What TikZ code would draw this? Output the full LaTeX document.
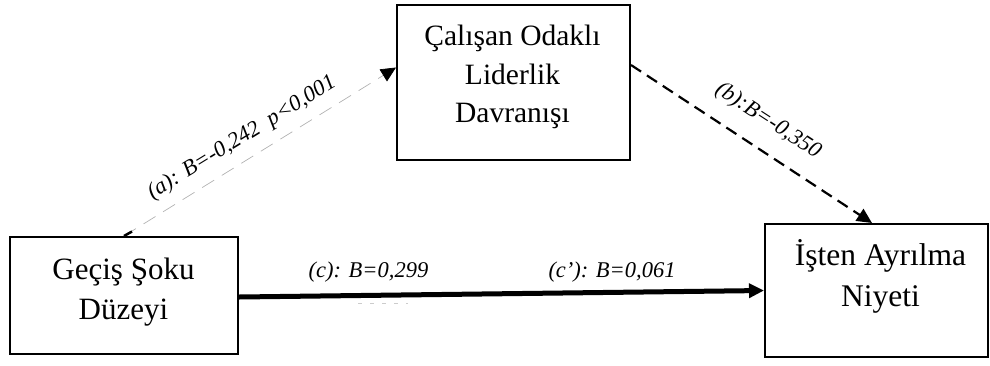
\documentclass[tikz,border=0pt]{standalone}
\usepackage{fontspec}
\setmainfont{Liberation Serif}
\usetikzlibrary{arrows.meta}
\begin{document}
\begin{tikzpicture}[x=1pt,y=-1pt,
  box/.style={draw,line width=2pt,minimum width=#1,inner sep=0pt},
  boxtext/.style={font=\fontsize{#1}{#1}\selectfont,anchor=base,inner sep=0pt},
  lab/.style={font=\fontsize{22.5}{26}\selectfont\itshape,inner sep=0pt},
  tip/.style={-{Triangle[length=15pt,width=14pt]}}
]
\useasboundingbox (0,0) rectangle (990,365);
% boxes
\node[box=228pt,minimum height=117pt] (gs) at (124,295.5) {};
\node[box=233pt,minimum height=155pt] (co) at (513.5,82.5) {};
\node[box=223pt,minimum height=133pt] (ni) at (876.5,290.5) {};
% texts
\node[boxtext=31] (gst1) at (123.5,279) {Geçiş Şoku};
\node[boxtext=31] (gst2) at (123.5,319) {Düzeyi};
\node[boxtext=29.5] (cot1) at (512.5,45) {Çalışan Odaklı};
\node[boxtext=29.5] (cot2) at (512.5,84) {Liderlik};
\node[boxtext=29.5] (cot3) at (512.5,122) {Davranışı};
\node[boxtext=31.5] (nit1) at (880.5,265) {İşten Ayrılma};
\node[boxtext=31.5] (nit2) at (880.5,306) {Niyeti};
% connectors
\draw[gray!60,line width=0.7pt,dash pattern=on 14pt off 9pt,-{Triangle[length=15pt,width=14pt,black]}] (gs.north) -- ([yshift=15pt]co.west);
\draw[line width=2.5pt] (gs.north) -- ++(8,-4.5);
\draw[tip,line width=2.2pt,dash pattern=on 12pt off 7pt] ([yshift=17.5pt]co.east) -- ([xshift=-4.5pt]ni.north);
\draw[tip,line width=5pt] ([yshift=-1.5pt]gs.east) -- (ni.west);
\draw[gray!40,line width=1pt,dash pattern=on 4pt off 8pt] (358,303) -- (408,303);
% labels
\node[lab,rotate=31.5] (la) at (242,138) {(a): B=-0,242\ \ p<0,001};
\node[lab,rotate=-33] (lb) at (768,121) {(b):B=-0,350};
\node[lab,anchor=base] (lc) at (368.5,277) {(c): B=0,299};
\node[lab,anchor=base] (lc2) at (612,277) {(c’): B=0,061};
\end{tikzpicture}
\end{document}
